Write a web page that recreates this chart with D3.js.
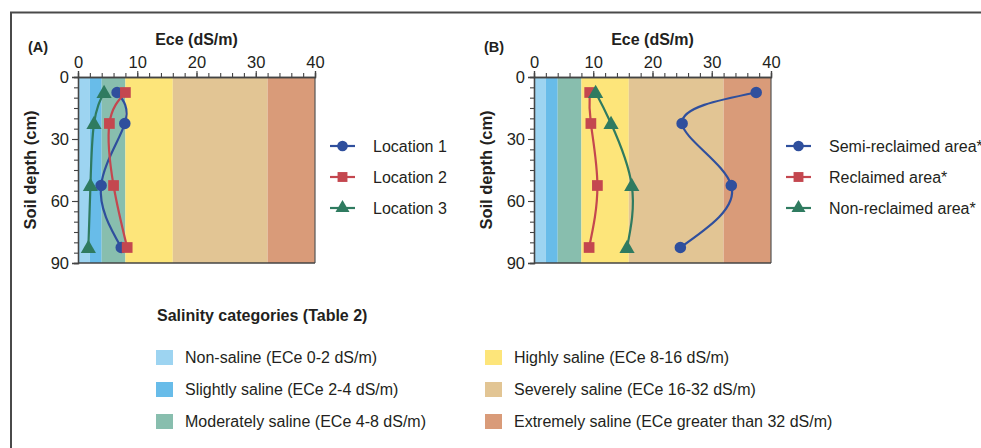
<!DOCTYPE html>
<html>
<head>
<meta charset="utf-8">
<script src="https://cdn.jsdelivr.net/npm/d3@7/dist/d3.min.js"></script>
<style>
  html, body { margin: 0; padding: 0; background: #fff; }
  svg { display: block; font-family: "Liberation Sans", Arial, Helvetica, sans-serif; }
</style>
</head>
<body>
<svg id="chart" width="981" height="448"></svg>
<script>
// Salinity classes (ECe thresholds, dS/m) and their fills
const salinityNames = ["Non-saline (ECe 0-2 dS/m)", "Slightly saline (ECe 2-4 dS/m)", "Moderately saline (ECe 4-8 dS/m)",
                       "Highly saline (ECe 8-16 dS/m)", "Severely saline (ECe 16-32 dS/m)", "Extremely saline (ECe greater than 32 dS/m)"];
const salinityLower = [0, 2, 4, 8, 16, 32];
const salinityUpper = [2, 4, 8, 16, 32, 40];
const salinityColors = ["#9dd4f1", "#68bce9", "#88beae", "#fde57a", "#e2c594", "#d99b79"];

// Sampling depths (cm)
const depths = [7.5, 22.5, 52.5, 82.5];

// Panel A: three locations
const seriesA = ["Location 1", "Location 2", "Location 3"];
const location1 = [6.6, 7.9, 3.9, 7.3];
const location2 = [8.0, 5.3, 6.0, 8.3];
const location3 = [4.4, 2.7, 2.1, 1.75];

// Panel B: reclamation status
const seriesB = ["Semi-reclaimed area*", "Reclaimed area*", "Non-reclaimed area*"];
const semiReclaimed = [37.5, 25.0, 33.3, 24.7];
const reclaimed = [9.4, 9.6, 10.7, 9.3];
const nonReclaimed = [10.4, 13.0, 16.5, 15.7];

// Axis ticks
const eceTicks = [0, 10, 20, 30, 40];
const depthTicks = [0, 30, 60, 90];

const lineColors = ["#2f4f9d", "#c4474f", "#2f7b60"];
const markerShapes = [d3.symbolCircle, d3.symbolSquare, d3.symbolTriangle];
const markerSizes = [105, 115, 100];

const svg = d3.select("#chart");
const textColor = "#231f20";

// Outer frame (open to the right and bottom)
svg.append("path")
  .attr("d", "M11,448 V12.5 H981")
  .attr("fill", "none").attr("stroke", "#4a4a4a").attr("stroke-width", 2);

function drawPanel(opts) {
  const x = d3.scaleLinear().domain([0, 40]).range([opts.left, opts.left + 237]);
  const y = d3.scaleLinear().domain([0, 90]).range([77, 263]);
  const g = svg.append("g");

  // salinity bands
  g.selectAll("rect.band").data(salinityColors).join("rect")
    .attr("class", "band")
    .attr("x", (d, i) => x(salinityLower[i]))
    .attr("width", (d, i) => x(salinityUpper[i]) - x(salinityLower[i]))
    .attr("y", y(0)).attr("height", y(90) - y(0))
    .attr("fill", d => d);

  // plot outline (right side)
  g.append("line")
    .attr("x1", x(40)).attr("x2", x(40)).attr("y1", y(0)).attr("y2", y(90))
    .attr("stroke", "#555").attr("stroke-width", 1.2);

  // x axis on top: minor and major ticks
  const xMinor = g.append("g").attr("transform", `translate(0,${y(0)})`)
    .call(d3.axisTop(x).tickValues(d3.range(0, 41, 2)).tickSize(4).tickFormat(""));
  const xMajor = g.append("g").attr("transform", `translate(0,${y(0)})`)
    .call(d3.axisTop(x).tickValues(eceTicks).tickSize(6).tickPadding(3));
  // y axis on left
  const yMinor = g.append("g").attr("transform", `translate(${x(0)},0)`)
    .call(d3.axisLeft(y).tickValues(d3.range(0, 91, 5)).tickSize(4).tickFormat(""));
  const yMajor = g.append("g").attr("transform", `translate(${x(0)},0)`)
    .call(d3.axisLeft(y).tickValues(depthTicks).tickSize(6).tickPadding(3));

  [xMinor, xMajor, yMinor, yMajor].forEach(a => {
    a.selectAll(".domain").attr("stroke", "#444").attr("stroke-width", 1.3);
    a.selectAll(".tick line").attr("stroke", "#444").attr("stroke-width", 1.1);
    a.selectAll(".tick text").attr("fill", textColor).attr("font-size", 16.5)
      .attr("font-family", "Liberation Sans, Arial, sans-serif");
  });
  // bottom axis line at 90 cm
  g.append("line")
    .attr("x1", x(0)).attr("x2", x(40)).attr("y1", y(90)).attr("y2", y(90))
    .attr("stroke", "#444").attr("stroke-width", 1.3);

  // titles
  g.append("text").attr("x", x(20)).attr("y", 45).attr("text-anchor", "middle")
    .attr("font-size", 16).attr("font-weight", "bold").attr("fill", textColor)
    .text("Ece (dS/m)");
  g.append("text").attr("x", opts.left - 50).attr("y", 52)
    .attr("font-size", 14.5).attr("font-weight", "bold").attr("fill", textColor)
    .text(opts.label);
  g.append("text")
    .attr("transform", `translate(${opts.left - 42},${y(45)}) rotate(-90)`)
    .attr("text-anchor", "middle")
    .attr("font-size", 16.5).attr("font-weight", "bold").attr("fill", textColor)
    .text("Soil depth (cm)");

  // series lines and markers
  const line = d3.line().x(d => x(d[0])).y(d => y(d[1])).curve(d3.curveNatural);
  opts.values.forEach((vals, s) => {
    const pts = vals.map((v, i) => [v, depths[i]]);
    g.append("path").attr("d", line(pts))
      .attr("fill", "none").attr("stroke", lineColors[s]).attr("stroke-width", 2.2);
  });
  opts.values.forEach((vals, s) => {
    g.selectAll(null).data(vals.map((v, i) => [v, depths[i]])).join("path")
      .attr("transform", d => `translate(${x(d[0])},${y(d[1]) + (s === 2 ? 1 : 0)})`)
      .attr("d", d3.symbol().type(markerShapes[s]).size(markerSizes[s]))
      .attr("fill", lineColors[s]);
  });

  // series legend
  const leg = g.append("g").attr("transform", `translate(${opts.legendX},146)`);
  opts.names.forEach((name, s) => {
    const row = leg.append("g").attr("transform", `translate(0,${s * 31})`);
    row.append("line").attr("x1", 0).attr("x2", 25).attr("y1", 0).attr("y2", 0)
      .attr("stroke", lineColors[s]).attr("stroke-width", 2.2);
    row.append("path").attr("transform", "translate(12.5,0)")
      .attr("d", d3.symbol().type(markerShapes[s]).size(markerSizes[s] * 0.85))
      .attr("fill", lineColors[s]);
    row.append("text").attr("x", 43).attr("y", 5.5)
      .attr("font-size", 16).attr("fill", textColor).text(name);
  });
}

drawPanel({ left: 78, label: "(A)", values: [location1, location2, location3], names: seriesA, legendX: 330 });
drawPanel({ left: 534, label: "(B)", values: [semiReclaimed, reclaimed, nonReclaimed], names: seriesB, legendX: 786 });

// Salinity category key
svg.append("text").attr("x", 157).attr("y", 321)
  .attr("font-size", 16).attr("font-weight", "bold").attr("fill", textColor)
  .text("Salinity categories (Table 2)");

const key = svg.append("g");
salinityNames.forEach((name, i) => {
  const col = Math.floor(i / 3), row = i % 3;
  const gx = col === 0 ? 156 : 485;
  const gy = 350 + row * 32;
  key.append("rect").attr("x", gx).attr("y", gy).attr("width", 17).attr("height", 15)
    .attr("fill", salinityColors[i]);
  key.append("text").attr("x", gx + 29).attr("y", gy + 13)
    .attr("font-size", 16).attr("fill", textColor).text(name);
});
</script>
</body>
</html>
